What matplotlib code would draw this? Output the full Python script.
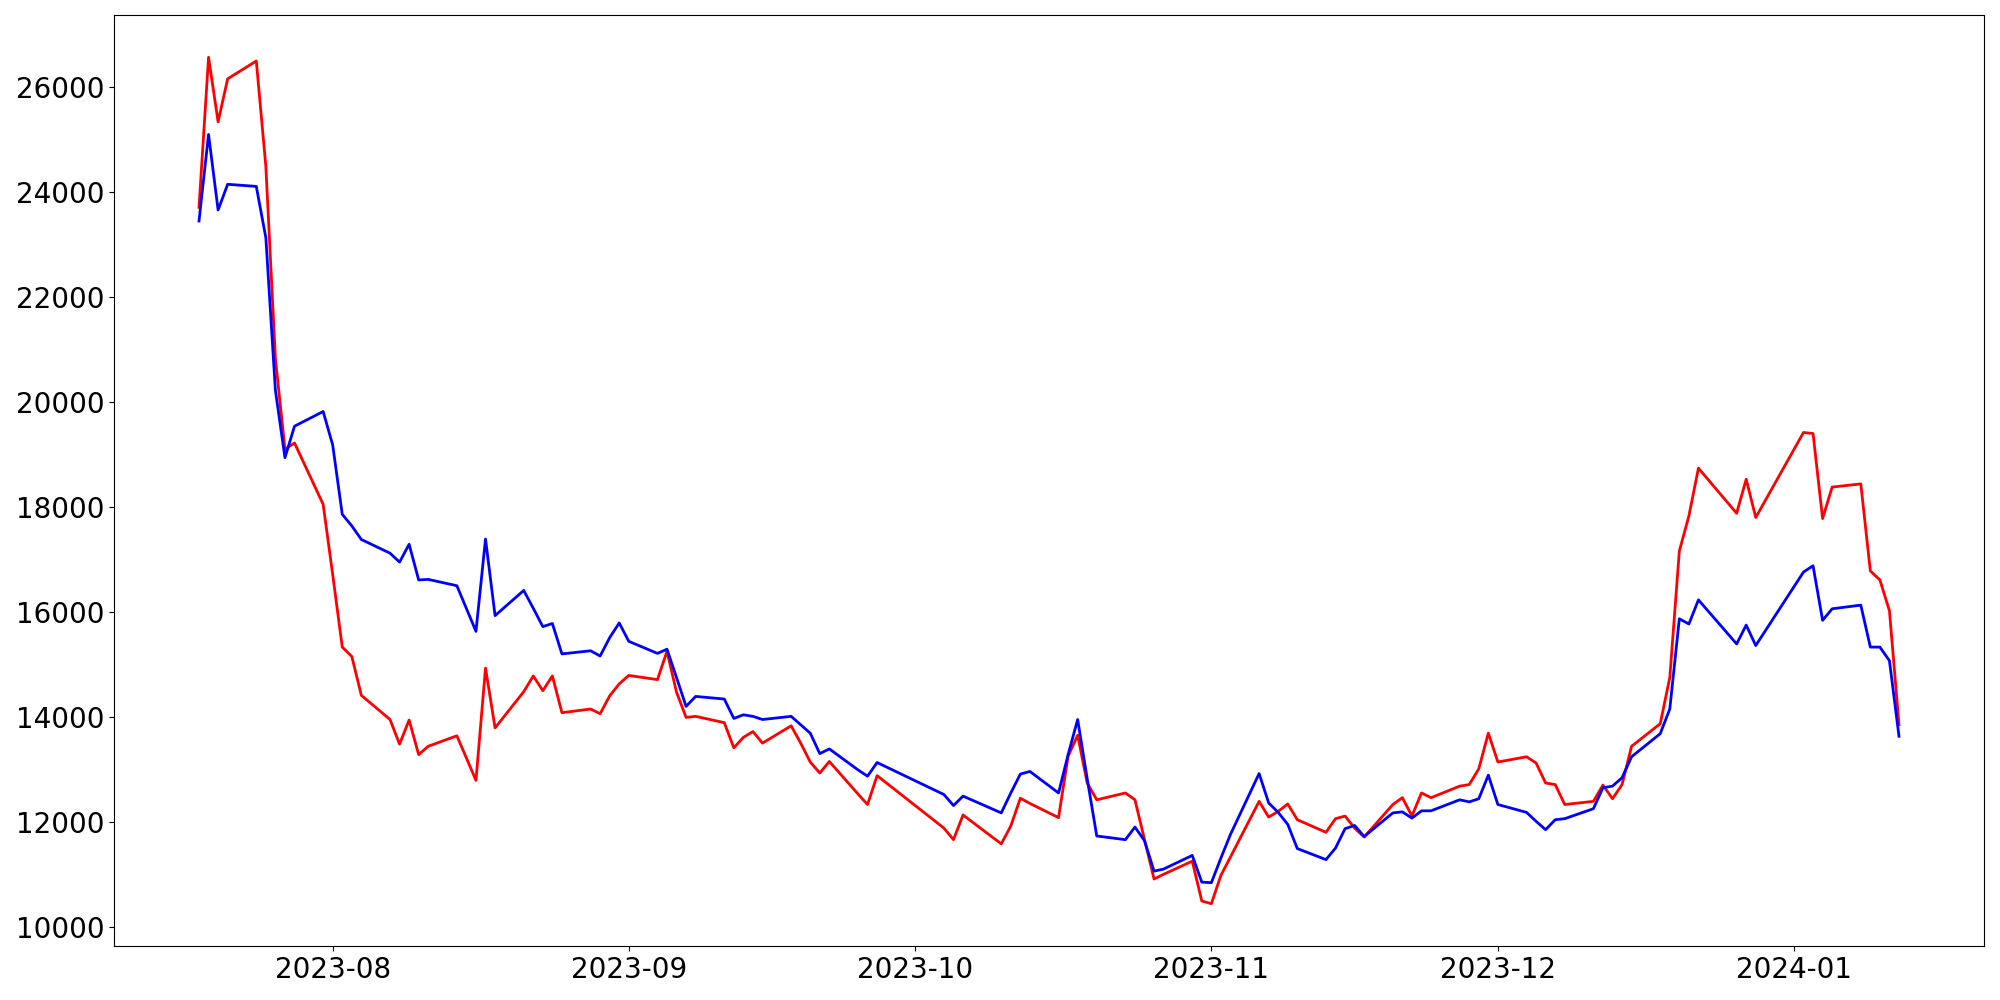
import numpy as np
import pandas as pd
import matplotlib
matplotlib.use('Agg')
import matplotlib.pyplot as plt

# trading days (KRX calendar, holidays skipped)
start_day = '2023-07-18'
end_day = '2024-01-12'
closed_days = ['2023-08-15', '2023-09-28', '2023-09-29', '2023-10-02', '2023-10-03',
               '2023-10-09', '2023-12-25', '2023-12-29', '2024-01-01']
dates = pd.bdate_range(start_day, end_day, freq='C', holidays=closed_days)

# red series
red_vals = [
    23710, 26570, 25340, 26160, 26500, 24490, 20830, 19100, 19220, 18050,                 # jul
    16710, 15330, 15150, 14410, 13950, 13480, 13940, 13280, 13440, 13640, 12790,          # aug
    14930, 13790, 14480, 14780, 14500, 14780, 14080, 14150, 14060, 14400, 14630,
    14790, 14710, 15250, 14470, 13990, 14010, 13890, 13410, 13610, 13720, 13500,          # sep
    13830, 13500, 13140, 12930, 13150, 12530, 12330, 12880,
    11880, 11660, 12130, 11580, 11920, 12450, 12350, 12080, 13250, 13650, 12740,          # oct
    12420, 12550, 12420, 11660, 10910, 11000, 11250, 10490,
    10440, 10980, 11330, 12390, 12090, 12200, 12340, 12040, 11800, 12060, 12110,          # nov
    11880, 11710, 12330, 12460, 12110, 12550, 12460, 12680, 12710, 13010, 13690,
    13140, 13240, 13120, 12740, 12710, 12330, 12390, 12700, 12440, 12710, 13440,          # dec
    13870, 14750, 17160, 17830, 18740, 17880, 18530, 17800,
    19420, 19400, 17780, 18380, 18440, 16780, 16610, 16020, 13850,                        # jan
]

# blue series
blue_vals = [
    23450, 25100, 23660, 24150, 24110, 23130, 20220, 18940, 19540, 19820,                 # jul
    19180, 17860, 17640, 17380, 17120, 16950, 17290, 16610, 16620, 16500, 15630,          # aug
    17390, 15930, 16410, 16070, 15720, 15780, 15200, 15260, 15160, 15510, 15790,
    15440, 15210, 15290, 14750, 14200, 14390, 14340, 13970, 14040, 14010, 13950,          # sep
    14010, 13850, 13690, 13300, 13390, 12990, 12870, 13130,
    12520, 12310, 12490, 12170, 12550, 12910, 12960, 12550, 13280, 13950, 12820,          # oct
    11730, 11660, 11900, 11640, 11060, 11100, 11360, 10850,
    10840, 11310, 11760, 12920, 12360, 12180, 11950, 11490, 11280, 11500, 11870,          # nov
    11930, 11720, 12170, 12190, 12070, 12210, 12210, 12420, 12380, 12440, 12890,
    12330, 12180, 12010, 11850, 12040, 12060, 12250, 12650, 12680, 12840, 13240,          # dec
    13680, 14150, 15870, 15770, 16230, 15390, 15750, 15360,
    16760, 16880, 15840, 16060, 16130, 15330, 15330, 15070, 13630,                        # jan
]

fig = plt.figure(figsize=(20, 10), dpi=100)
ax = fig.add_axes([0.057, 0.054, 0.935, 0.931])

ax.plot(dates, red_vals, color='red', linewidth=2)
ax.plot(dates, blue_vals, color='blue', linewidth=2)

ax.tick_params(axis='both', labelsize=20)

fig.savefig('out.png', dpi=100)
